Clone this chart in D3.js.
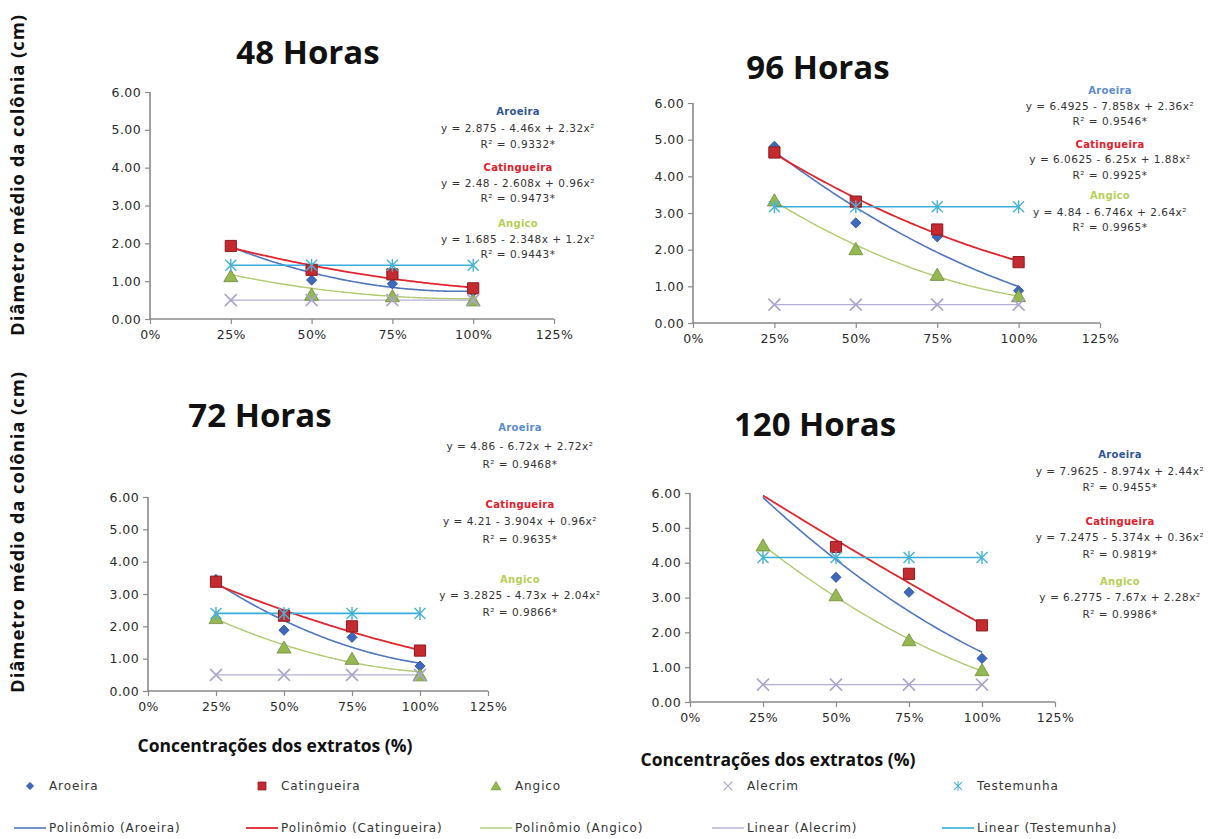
<!DOCTYPE html>
<html>
<head>
<meta charset="utf-8">
<script src="https://cdn.jsdelivr.net/npm/d3@7"></script>
<style>
  body { margin: 0; background: #fff; }
  svg { display: block; }
  .tick-label { font-family: "DejaVu Sans", Verdana, sans-serif; font-size: 12.5px; letter-spacing: 0.4px; fill: #2a2a2a; }
  .eq { font-family: "DejaVu Sans", Verdana, sans-serif; font-size: 10.5px; letter-spacing: 0.5px; fill: #333; }
  .eq-name { font-family: "DejaVu Sans", Verdana, sans-serif; font-size: 10px; font-weight: bold; letter-spacing: 0.3px; }
  .title { font-family: "Open Sans", Lato, sans-serif; font-size: 33px; font-weight: bold; fill: #111; }
  .axis-title { font-family: "Open Sans", Lato, sans-serif; font-size: 17.5px; font-weight: bold; fill: #111; }
  .y-title { letter-spacing: 0.9px; font-size: 18.5px; }
  .legend { font-family: "DejaVu Sans", Verdana, sans-serif; font-size: 12px; letter-spacing: 0.9px; fill: #333; }
</style>
</head>
<body>
<script>
// panels: 48h, 96h, 72h, 120h (as placed in the figure)
var periods = ["48 Horas", "96 Horas", "72 Horas", "120 Horas"];
var concentrations = [0.25, 0.50, 0.75, 1.00];
var xTicks = [0, 0.25, 0.5, 0.75, 1.0, 1.25];
var yTicks = [0, 1, 2, 3, 4, 5, 6];

// mean colony diameter (cm), one row per panel
var aroeira     = [[1.92, 1.03, 0.93, 0.72], [4.82, 2.73, 2.35, 0.88], [3.45, 1.88, 1.66, 0.77], [6.05, 3.58, 3.15, 1.25]];
var catingueira = [[1.93, 1.30, 1.18, 0.81], [4.65, 3.31, 2.55, 1.66], [3.38, 2.33, 2.00, 1.25], [6.05, 4.45, 3.68, 2.20]];
var angico      = [[1.12, 0.63, 0.59, 0.48], [3.33, 2.00, 1.30, 0.72], [2.24, 1.33, 0.98, 0.47], [4.48, 3.05, 1.76, 0.90]];
var alecrim     = [[0.50, 0.50, 0.50, 0.50], [0.50, 0.50, 0.50, 0.50], [0.50, 0.50, 0.50, 0.50], [0.50, 0.50, 0.50, 0.50]];
var testemunha  = [[1.42, 1.42, 1.42, 1.42], [3.17, 3.17, 3.17, 3.17], [2.40, 2.40, 2.40, 2.40], [4.15, 4.15, 4.15, 4.15]];

// polynomial trend coefficients y = a + b x + c x^2 printed on the chart
var aroeiraFit     = [[2.875, -4.46, 2.32], [6.4925, -7.858, 2.36], [4.86, -6.72, 2.72], [7.9625, -8.974, 2.44]];
var catingueiraFit = [[2.48, -2.608, 0.96], [6.0625, -6.25, 1.88], [4.21, -3.904, 0.96], [7.2475, -5.374, 0.36]];
var angicoFit      = [[1.685, -2.348, 1.2], [4.84, -6.746, 2.64], [3.2825, -4.73, 2.04], [6.2775, -7.67, 2.28]];
var aroeiraR2      = ["0.9332*", "0.9546*", "0.9468*", "0.9455*"];
var catingueiraR2  = ["0.9473*", "0.9925*", "0.9635*", "0.9819*"];
var angicoR2       = ["0.9443*", "0.9965*", "0.9866*", "0.9986*"];

var width = 1208, height = 839;

// layout of each panel (pixel frame of the plot area, title and equation block)
var layout = [
  {x0: 150, x1: 554,  y0: 319, y1: 92,  tx: 308, ty: 55,  ex: 518,  ey: 112, eqOff: [0, 17, 33, 56, 72, 87, 112, 128, 143], nameCol: "#2F5597"},
  {x0: 693, x1: 1100, y0: 323, y1: 103, tx: 818, ty: 70,  ex: 1110, ey: 91,  eqOff: [0, 16, 31, 54, 69, 85, 105, 122, 137], nameCol: "#5B8BD0"},
  {x0: 148, x1: 488,  y0: 691, y1: 497, tx: 260, ty: 418, ex: 520,  ey: 428, eqOff: [0, 19, 37, 77, 94, 112, 152, 168, 185], nameCol: "#5B8BD0"},
  {x0: 690, x1: 1055, y0: 702, y1: 493, tx: 815, ty: 427, ex: 1120, ey: 455, eqOff: [0, 17, 33, 67, 83, 100, 127, 143, 160], nameCol: "#2F5597"}
];

var series = [
  {name: "Aroeira",     data: aroeira,     fit: aroeiraFit,     r2: aroeiraR2,     trend: "Polinômio (Aroeira)",     marker: "diamond",  fill: "#3C68BE", stroke: "#2B4F95", line: "#5076BD", lw: 1.6},
  {name: "Catingueira", data: catingueira, fit: catingueiraFit, r2: catingueiraR2, trend: "Polinômio (Catingueira)", marker: "square",   fill: "#C42A2F", stroke: "#8E1B1F", line: "#E1252D", lw: 1.8, label: "#E0202A"},
  {name: "Angico",      data: angico,      fit: angicoFit,      r2: angicoR2,      trend: "Polinômio (Angico)",      marker: "triangle", fill: "#94B852", stroke: "#6E8C38", line: "#AFCA70", lw: 1.4, label: "#B5CF55"},
  {name: "Alecrim",     data: alecrim,     trend: "Linear (Alecrim)",    marker: "x",        fill: "none", stroke: "#A9A5CD", line: "#B3AFD5", lw: 1.4},
  {name: "Testemunha",  data: testemunha,  trend: "Linear (Testemunha)", marker: "asterisk", fill: "none", stroke: "#47B2D8", line: "#35AEDB", lw: 1.6}
];

var svg = d3.select("body").append("svg")
  .attr("width", width)
  .attr("height", height);

// least squares straight line for the linear trend lines
function linearFit(xs, ys){
  var mx = d3.mean(xs), my = d3.mean(ys);
  var sxy = d3.sum(xs, function(x, i){ return (x - mx) * (ys[i] - my); });
  var sxx = d3.sum(xs, function(x){ return (x - mx) * (x - mx); });
  var b = sxx ? sxy / sxx : 0;
  return [my - b * mx, b, 0];
}

function drawMarker(g, type, x, y, s, k){
  k = k || 1;
  var tr = "translate(" + x + "," + y + ") scale(" + k + ")";
  if (type === "diamond"){
    g.append("path").attr("d", d3.symbol(d3.symbolSquare, 52)())
      .attr("transform", tr + " rotate(45)")
      .attr("fill", s.fill).attr("stroke", s.stroke).attr("stroke-width", 0.8);
  } else if (type === "square"){
    g.append("path").attr("d", d3.symbol(d3.symbolSquare, 125)())
      .attr("transform", tr)
      .attr("fill", s.fill).attr("stroke", s.stroke).attr("stroke-width", 1);
  } else if (type === "triangle"){
    g.append("path").attr("d", d3.symbol(d3.symbolTriangle, 85)())
      .attr("transform", "translate(" + x + "," + (y + 1) + ") scale(" + k + ")")
      .attr("fill", s.fill).attr("stroke", s.stroke).attr("stroke-width", 0.8);
  } else if (type === "x"){
    g.append("path").attr("d", "M-6,-6L6,6M-6,6L6,-6")
      .attr("transform", tr)
      .attr("stroke", s.stroke).attr("stroke-width", 1.6).attr("fill", "none");
  } else {
    g.append("path").attr("d", "M-5.5,-5.5L5.5,5.5M-5.5,5.5L5.5,-5.5M0,-6.5L0,6.5")
      .attr("transform", tr)
      .attr("stroke", s.stroke).attr("stroke-width", 1.4).attr("fill", "none");
  }
}

function eqText(c){
  return "y = " + c[0] + " - " + Math.abs(c[1]) + "x + " + c[2] + "x²";
}

layout.forEach(function(L, p){
  var x = d3.scaleLinear().domain([0, 1.25]).range([L.x0, L.x1]);
  var y = d3.scaleLinear().domain([0, 6]).range([L.y0, L.y1]);
  var g = svg.append("g");

  // title
  g.append("text").attr("class", "title")
    .attr("x", L.tx).attr("y", L.ty)
    .attr("text-anchor", "middle").attr("dominant-baseline", "middle")
    .text(periods[p]);

  // y axis
  var yAxis = g.append("g")
    .attr("transform", "translate(" + L.x0 + ",0)")
    .call(d3.axisLeft(y).tickValues(yTicks).tickSize(5).tickFormat(d3.format(".2f")));
  // x axis
  var xAxis = g.append("g")
    .attr("transform", "translate(0," + L.y0 + ")")
    .call(d3.axisBottom(x).tickValues(xTicks).tickSize(5).tickFormat(d3.format(".0%")));
  [yAxis, xAxis].forEach(function(a){
    a.select(".domain").attr("stroke", "#8a8a8a").attr("stroke-width", 1.6);
    a.selectAll(".tick line").attr("stroke", "#8a8a8a").attr("stroke-width", 1.2);
    a.selectAll(".tick text").attr("class", "tick-label").attr("fill", null);
    a.attr("font-family", null).attr("font-size", null);
  });
  yAxis.select(".domain").attr("d", "M0," + L.y0 + "V" + L.y1);
  xAxis.select(".domain").attr("d", "M" + L.x0 + ",0H" + L.x1);
  yAxis.selectAll(".tick text").attr("x", -9);
  xAxis.selectAll(".tick text").attr("y", 11);

  var clipId = "clip" + p;
  g.append("clipPath").attr("id", clipId).append("rect")
    .attr("x", L.x0).attr("y", L.y1 - 2).attr("width", L.x1 - L.x0).attr("height", L.y0 - L.y1 + 2);

  // trend lines
  var sampleX = d3.range(0.25, 1.0001, 0.01);
  var line = d3.line()
    .x(function(d){ return x(d[0]); })
    .y(function(d){ return y(d[1]); })
    .curve(d3.curveMonotoneX);
  series.forEach(function(s){
    var c = s.fit ? s.fit[p] : linearFit(concentrations, s.data[p]);
    var pts = sampleX.map(function(v){ return [v, c[0] + c[1] * v + c[2] * v * v]; });
    g.append("path").attr("clip-path", "url(#" + clipId + ")")
      .attr("d", line(pts))
      .attr("fill", "none").attr("stroke", s.line).attr("stroke-width", s.lw);
  });

  // markers (values above the axis maximum are not shown)
  series.forEach(function(s){
    var mg = g.append("g");
    s.data[p].forEach(function(v, i){
      if (v > 6) return;
      drawMarker(mg, s.marker, x(concentrations[i]), y(v), s);
    });
  });

  // equation block
  var k = 0;
  series.slice(0, 3).forEach(function(s){
    g.append("text").attr("class", "eq-name").attr("fill", s.label || L.nameCol)
      .attr("x", L.ex).attr("y", L.ey + L.eqOff[k++]).attr("text-anchor", "middle")
      .attr("dominant-baseline", "middle").text(s.name);
    g.append("text").attr("class", "eq")
      .attr("x", L.ex).attr("y", L.ey + L.eqOff[k++]).attr("text-anchor", "middle")
      .attr("dominant-baseline", "middle").text(eqText(s.fit[p]));
    g.append("text").attr("class", "eq")
      .attr("x", L.ex).attr("y", L.ey + L.eqOff[k++]).attr("text-anchor", "middle")
      .attr("dominant-baseline", "middle").text("R² = " + s.r2[p]);
  });
});

// axis titles
[175, 532].forEach(function(cy){
  svg.append("text").attr("class", "axis-title y-title")
    .attr("transform", "translate(19," + cy + ") rotate(-90)")
    .attr("text-anchor", "middle").attr("dominant-baseline", "middle")
    .text("Diâmetro médio da colônia (cm)");
});
[[275, 747], [778, 761]].forEach(function(pos){
  svg.append("text").attr("class", "axis-title")
    .attr("x", pos[0]).attr("y", pos[1])
    .attr("text-anchor", "middle").attr("dominant-baseline", "middle")
    .text("Concentrações dos extratos (%)");
});

// legend
var legendX = [30, 262, 496, 728, 958];
series.forEach(function(s, i){
  var lg = svg.append("g");
  drawMarker(lg, s.marker, legendX[i], 786, s, 0.72);
  lg.append("text").attr("class", "legend")
    .attr("x", legendX[i] + 19).attr("y", 786)
    .attr("dominant-baseline", "middle").text(s.name);
  lg.append("line")
    .attr("x1", legendX[i] - 16).attr("x2", legendX[i] + 16)
    .attr("y1", 828).attr("y2", 828)
    .attr("stroke", s.line).attr("stroke-width", s.lw);
  lg.append("text").attr("class", "legend")
    .attr("x", legendX[i] + 19).attr("y", 828)
    .attr("dominant-baseline", "middle").text(s.trend);
});
</script>
</body>
</html>
